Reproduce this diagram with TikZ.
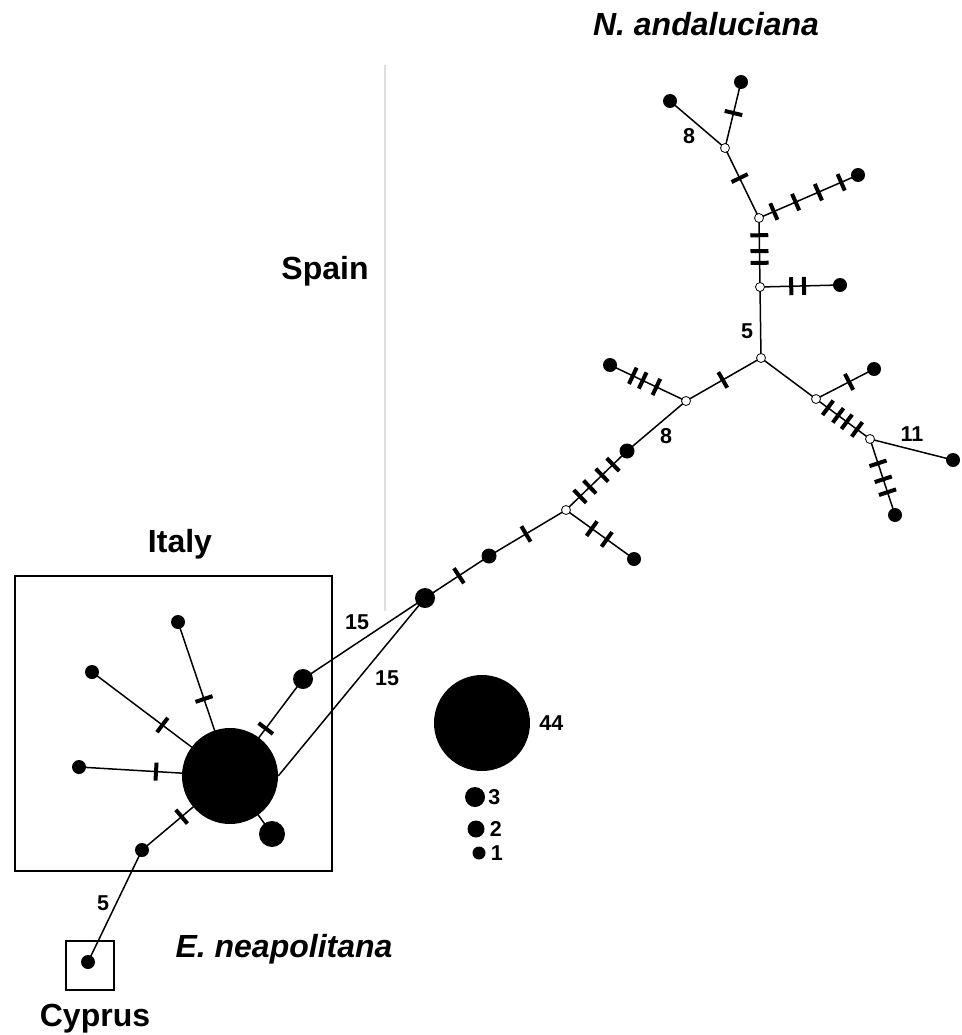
\documentclass[tikz,border=0pt]{standalone}
\usepackage{fontspec}
\setmainfont{Liberation Sans}
\usetikzlibrary{positioning,decorations.markings,backgrounds}

\tikzset{
  hap/.style={circle,fill=black,inner sep=0pt,minimum size=#1},
  hap/.default=14pt,
  med/.style={circle,draw=black,fill=white,line width=0.8pt,inner sep=0pt,minimum size=9pt},
  mut/.style={postaction={decorate,decoration={markings,
      mark=at position #1 with {\fill (-2pt,-9pt) rectangle (2pt,9pt);}}}},
  link/.style={line width=1.5pt},
  region/.style={font=\bfseries\fontsize{32}{36}\selectfont,inner sep=0pt},
  nlab/.style={font=\bfseries\fontsize{21.5}{24}\selectfont,inner sep=1pt},
}

\begin{document}
\begin{tikzpicture}[x=1pt,y=-1pt]
\useasboundingbox (0,0) rectangle (961,1035);

% frames and the Spain divider
\draw[line width=1.4pt] (15,576) rectangle (332,871);
\draw[line width=1.2pt] (66,941) rectangle (114,990);
\draw[gray!25,line width=2pt] (385,65) -- (385,611);

% region and species names
\node[region,anchor=base] (andal) at (706,36) {\itshape N. andaluciana};
\node[region,anchor=base] (spain) at (325,279) {Spain};
\node[region,anchor=base] (italy) at (180,552) {Italy};
\node[region,anchor=base] (neap) at (284,957) {\itshape E. neapolitana};
\node[region,anchor=base] (cyprus) at (95,1026) {Cyprus};

% Spanish haplotypes
\node[hap] (sp1) at (741,82) {};
\node[hap] (sp2) at (670,101) {};
\node[hap] (sp3) at (858,175) {};
\node[hap] (sp4) at (840,285) {};
\node[hap] (sp5) at (610,365) {};
\node[hap=15pt] (sp6) at (627,451) {};
\node[hap] (sp7) at (874,369) {};
\node[hap] (sp8) at (953,460) {};
\node[hap] (sp9) at (895,515) {};
\node[hap] (sp10) at (634,559) {};
\node[hap=15pt] (sp11) at (489,556) {};
\node[hap=20pt] (sp12) at (425,598) {};

% median vectors
\node[med] (m1) at (725,148) {};
\node[med] (m2) at (759,218) {};
\node[med] (m3) at (760,287) {};
\node[med] (m4) at (761,358) {};
\node[med] (m5) at (686,401) {};
\node[med] (m6) at (816,399) {};
\node[med] (m7) at (870,439) {};
\node[med] (m8) at (566,510) {};

% Italian haplotypes
\node[hap=96pt] (it0) at (230,776) {};
\node[hap] (it1) at (178,622) {};
\node[hap] (it2) at (92,672) {};
\node[hap] (it3) at (79,767) {};
\node[hap=20pt] (it4) at (303,679) {};
\node[hap=26pt] (it5) at (272,834) {};
\node[hap] (it6) at (142,850) {};
\node[hap] (cy) at (88,962) {};

% connectors
\begin{scope}[on background layer]
\begin{scope}[link]
\draw[mut=0.53] (m1.center) -- (sp1.center);
\draw (m1.center) -- (sp2.center);
\draw[mut=0.43] (m1.center) -- (m2.center);
\draw[mut=0.15,mut=0.37,mut=0.6,mut=0.83] (m2.center) -- (sp3.center);
\draw[mut=0.25,mut=0.48,mut=0.65] (m2.center) -- (m3.center);
\draw[mut=0.39,mut=0.55] (m3.center) -- (sp4.center);
\draw (m3.center) -- (m4.center);
\draw[mut=0.51] (m4.center) -- (m5.center);
\draw[mut=0.39,mut=0.57,mut=0.7] (m5.center) -- (sp5.center);
\draw (m5.center) -- (sp6.center);
\draw (m4.center) -- (m6.center);
\draw[mut=0.57] (m6.center) -- (sp7.center);
\draw[mut=0.22,mut=0.41,mut=0.57,mut=0.76] (m6.center) -- (m7.center);
\draw (m7.center) -- (sp8.center);
\draw[mut=0.32,mut=0.53,mut=0.7] (m7.center) -- (sp9.center);
\draw[mut=0.23,mut=0.39,mut=0.59,mut=0.77] (m8.center) -- (sp6.center);
\draw[mut=0.38,mut=0.6] (m8.center) -- (sp10.center);
\draw[mut=0.52] (m8.center) -- (sp11.center);
\draw[mut=0.47] (sp11.center) -- (sp12.center);
\draw (sp12.center) -- (it4.center);
\draw (sp12.center) -- (it0.east);
\draw[mut=0.5] (it0.center) -- (it1.center);
\draw[mut=0.49] (it0.center) -- (it2.center);
\draw[mut=0.49] (it0.center) -- (it3.center);
\draw[mut=0.49] (it0.center) -- (it4.center);
\draw (it0.center) -- (it5.center);
\draw[mut=0.55] (it0.center) -- (it6.center);
\draw (it6.center) -- (cy.center);
\end{scope}
\end{scope}

% step counts on long branches
\node[nlab] (n8a) at (689,136) {8};
\node[nlab] (n5a) at (747,331) {5};
\node[nlab] (n8b) at (666,436) {8};
\node[nlab] (n11) at (912,434) {11};
\node[nlab] (n15a) at (357,622) {15};
\node[nlab] (n15b) at (387,678) {15};
\node[nlab] (n5b) at (103,903) {5};

% size legend
\node[hap=96pt] (lg44) at (482,723) {};
\node[hap=20pt] (lg3) at (475,797) {};
\node[hap=17pt] (lg2) at (476,829) {};
\node[hap=13pt] (lg1) at (479,853) {};
\node[nlab,right=8pt of lg44] (t44) {44};
\node[nlab,right=2pt of lg3] (t3) {3};
\node[nlab,right=4pt of lg2] (t2) {2};
\node[nlab,right=4pt of lg1] (t1) {1};
\end{tikzpicture}
\end{document}
